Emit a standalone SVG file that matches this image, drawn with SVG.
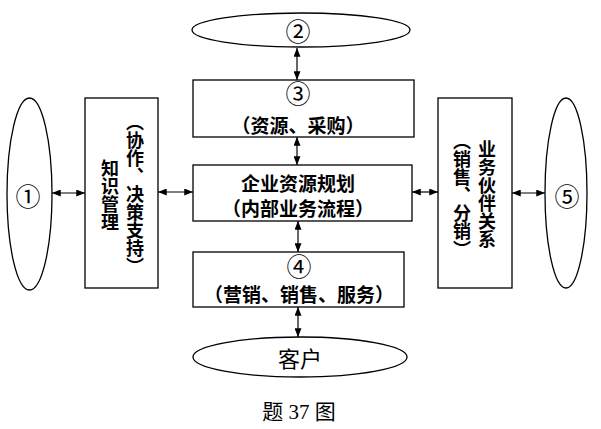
<svg xmlns="http://www.w3.org/2000/svg" width="601" height="429" viewBox="0 0 601 429">
<style>
.s{fill:none;stroke:#000;stroke-width:1.3}
.t{font-family:"Noto Sans CJK SC","Noto Sans",sans-serif;font-size:19px;font-weight:bold;fill:#000;text-anchor:middle;dominant-baseline:central}
.n{font-family:"Noto Sans CJK SC","Noto Sans",sans-serif;font-size:25px;fill:#000;text-anchor:middle;dominant-baseline:central}
.v{font-family:"Noto Sans CJK SC","Noto Sans",sans-serif;font-size:18px;font-weight:bold;fill:#000;text-anchor:middle;writing-mode:vertical-rl}
.c{stroke:#000;stroke-width:1.2;fill:none;marker-start:url(#a);marker-end:url(#a)}
</style>
<defs>
<marker id="a" viewBox="0 0 10 8" refX="10" refY="4" markerWidth="9" markerHeight="7" markerUnits="userSpaceOnUse" orient="auto-start-reverse">
<path d="M0,0 L10,4 L0,8 Z" fill="#000"/>
</marker>
</defs>
<rect width="601" height="429" fill="#fff"/>
<g id="n2"><ellipse class="s" cx="301" cy="30" rx="109" ry="17"/><text class="n" x="298" y="30">②</text></g>
<g id="n3"><rect class="s" x="193" y="80" width="221" height="57"/><text class="n" x="298" y="92">③</text><text class="t" x="298" y="124">（资源、采购）</text></g>
<g id="erp"><rect class="s" x="193" y="165" width="219" height="56"/><text class="t" x="298" y="182">企业资源规划</text><text class="t" x="298" y="207">（内部业务流程）</text></g>
<g id="n4"><rect class="s" x="193" y="252" width="211" height="55"/><text class="n" x="299" y="265">④</text><text class="t" x="299" y="293">（营销、销售、服务）</text></g>
<g id="client"><ellipse class="s" cx="300" cy="357" rx="107" ry="20"/><text class="t" x="300" y="357" style="font-size:22px;font-weight:normal">客户</text></g>
<g id="n1"><ellipse class="s" cx="29.5" cy="194" rx="22.5" ry="96"/><text class="n" x="28" y="195">①</text></g>
<g id="km"><rect class="s" x="85" y="98" width="73" height="190"/><text class="v" x="110" y="195">知识管理</text><text class="v" x="135" y="194">（协作、决策支持）</text></g>
<g id="partner"><rect class="s" x="438" y="98" width="74" height="190"/><text class="v" x="487" y="194">业务伙伴关系</text><text class="v" x="462" y="195">（销售、分销）</text></g>
<g id="n5"><ellipse class="s" cx="566" cy="193" rx="21" ry="95"/><text class="n" x="567" y="195">⑤</text></g>
<g id="connectors">
<line class="c" x1="297" y1="48" x2="297" y2="80"/>
<line class="c" x1="297" y1="137" x2="297" y2="165"/>
<line class="c" x1="298" y1="221" x2="298" y2="252"/>
<line class="c" x1="298" y1="307" x2="298" y2="337"/>
<line class="c" x1="52" y1="193" x2="85" y2="193"/>
<line class="c" x1="158" y1="192" x2="193" y2="192"/>
<line class="c" x1="412" y1="192" x2="438" y2="192"/>
<line class="c" x1="512" y1="193" x2="545" y2="193"/>
</g>
<text x="299" y="412" style="font-family:'Liberation Serif','Noto Sans CJK SC',serif;font-size:21px;text-anchor:middle;dominant-baseline:central">题 37 图</text>
</svg>
